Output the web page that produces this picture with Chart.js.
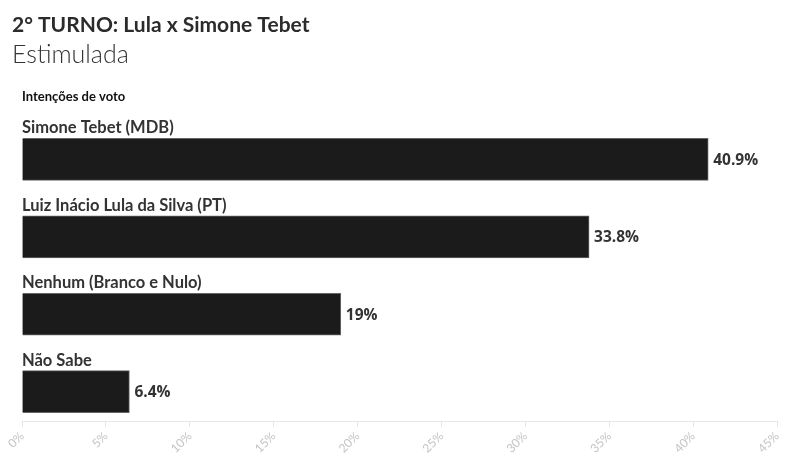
<!DOCTYPE html>
<html>
<head>
<meta charset="utf-8">
<script src="https://cdn.jsdelivr.net/npm/chart.js@4"></script>
<style>
  html, body { margin: 0; padding: 0; background: #fff; }
  #wrap { width: 796px; height: 458px; }
</style>
</head>
<body>
<div id="wrap"><canvas id="myChart" width="796" height="458"></canvas></div>
<script>
  //data block
  const categories = ['Simone Tebet (MDB)', 'Luiz Inácio Lula da Silva (PT)', 'Nenhum (Branco e Nulo)', 'Não Sabe'];
  const values = [40.9, 33.8, 19, 6.4];
  const xTicks = [0, 5, 10, 15, 20, 25, 30, 35, 40, 45];

  const FONT = 'Lato, "Source Sans Pro", sans-serif';
  const NUM_FONT = '"Open Sans", "Noto Sans", sans-serif';

  //texts drawn on the canvas
  const chartTexts = {
    id: 'chartTexts',
    afterDraw(chart) {
      const {ctx, chartArea: {left}} = chart;
      ctx.save();
      ctx.textAlign = 'left';
      ctx.textBaseline = 'alphabetic';

      ctx.font = `bold 21px ${FONT}`;
      ctx.fillStyle = '#2b2b2b';
      ctx.fillText('2° TURNO: Lula x Simone Tebet', 12, 32);

      ctx.font = `300 25px ${FONT}`;
      ctx.fillStyle = '#333333';
      ctx.fillText('Estimulada', 12, 63);

      ctx.font = `bold 13px ${FONT}`;
      ctx.fillStyle = '#111111';
      ctx.fillText('Intenções de voto', left, 101);
      ctx.restore();
    }
  };

  //category labels above bars and values at bar ends
  const barLabels = {
    id: 'barLabels',
    afterDatasetsDraw(chart) {
      const {ctx} = chart;
      const meta = chart.getDatasetMeta(0);
      ctx.save();
      ctx.fillStyle = '#333333';
      meta.data.forEach((bar, i) => {
        const top = bar.y - bar.height / 2;
        ctx.font = `bold 16.5px ${FONT}`;
        ctx.textAlign = 'left';
        ctx.textBaseline = 'alphabetic';
        ctx.fillText(categories[i], chart.chartArea.left, top - 5);
        ctx.font = `bold 15.5px ${NUM_FONT}`;
        ctx.textBaseline = 'middle';
        ctx.fillText(values[i] + '%', bar.x + 5, bar.y + 1);
      });
      ctx.restore();
    }
  };

  const data = {
    datasets: [{
      data: categories.map((c, i) => ({x: values[i], y: i})),
      backgroundColor: '#1b1b1b',
      borderColor: '#666666',
      borderWidth: 1,
      barThickness: 42
    }]
  };

  const options = {
    indexAxis: 'y',
    responsive: false,
    animation: false,
    layout: {
      padding: {left: 22, right: 19, top: 113, bottom: 0}
    },
    plugins: {
      legend: {display: false},
      tooltip: {enabled: false}
    },
    scales: {
      y: {
        type: 'linear',
        display: false,
        offset: false,
        reverse: true,
        min: -0.6,
        max: 3.38
      },
      x: {
        type: 'linear',
        min: xTicks[0],
        max: xTicks[xTicks.length - 1],
        afterBuildTicks(scale) {
          scale.ticks = xTicks.map(v => ({value: v}));
        },
        afterFit(scale) {
          scale.height = 37;
        },
        grid: {
          drawOnChartArea: false,
          drawTicks: true,
          tickLength: 6,
          color: '#e6e6e6'
        },
        border: {color: '#e6e6e6'},
        ticks: {
          callback: v => v + '%',
          maxRotation: 45,
          minRotation: 45,
          color: '#c4c4c4',
          padding: 2,
          font: {family: FONT, size: 12}
        }
      }
    }
  };

  const config = {
    type: 'bar',
    data,
    options,
    plugins: [chartTexts, barLabels]
  };

  const myChart = new Chart(document.getElementById('myChart'), config);
</script>
</body>
</html>
